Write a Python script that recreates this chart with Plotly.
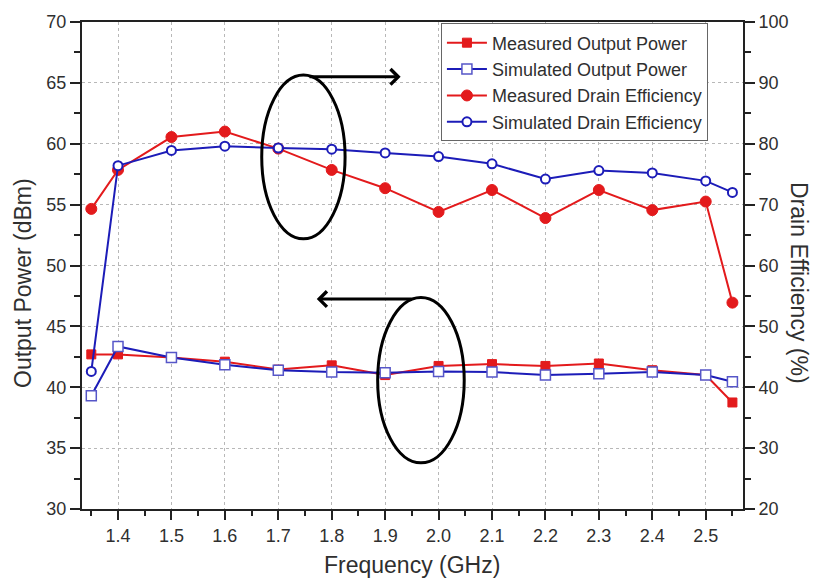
import plotly.graph_objects as go

# Frequency points (GHz)
freq = [1.35, 1.4, 1.5, 1.6, 1.7, 1.8, 1.9, 2.0, 2.1, 2.2, 2.3, 2.4, 2.5, 2.55]

# Output power (dBm)
meas_pout = [42.7, 42.7, 42.45, 42.1, 41.45, 41.8, 41.0, 41.75, 41.9, 41.75, 41.95, 41.4, 41.0, 38.75]
sim_pout = [39.3, 43.35, 42.45, 41.85, 41.4, 41.25, 41.2, 41.3, 41.25, 41.0, 41.1, 41.25, 41.0, 40.45]

# Drain efficiency (%)
meas_de = [69.3, 75.7, 81.1, 82.0, 79.2, 75.7, 72.7, 68.8, 72.4, 67.8, 72.4, 69.1, 70.5, 53.9]
sim_de = [42.6, 76.4, 78.9, 79.6, 79.3, 79.1, 78.5, 77.9, 76.7, 74.2, 75.6, 75.2, 73.9, 72.0]

RED = "#E31A1C"
BLUE = "#1C1CB8"
FONT = "Liberation Sans, Arial, sans-serif"
TXT = "#2f2f2f"

fig = go.Figure()

fig.add_trace(go.Scatter(
    x=freq, y=meas_pout, name="Measured Output Power", mode="lines+markers",
    line=dict(color=RED, width=2),
    marker=dict(symbol="square", size=9, color=RED, line=dict(color=RED, width=1)),
    legendrank=1,
))
fig.add_trace(go.Scatter(
    x=freq, y=sim_pout, name="Simulated Output Power", mode="lines+markers",
    line=dict(color=BLUE, width=2),
    marker=dict(symbol="square", size=10, color="white", line=dict(color="#5656C8", width=1.5)),
    legendrank=2,
))
fig.add_trace(go.Scatter(
    x=freq, y=meas_de, name="Measured Drain Efficiency", mode="lines+markers", yaxis="y2",
    line=dict(color=RED, width=2),
    marker=dict(symbol="circle", size=11, color=RED, line=dict(color=RED, width=1)),
    legendrank=3,
))
fig.add_trace(go.Scatter(
    x=freq, y=sim_de, name="Simulated Drain Efficiency", mode="lines+markers", yaxis="y2",
    line=dict(color=BLUE, width=2),
    marker=dict(symbol="circle", size=9, color="white", line=dict(color=BLUE, width=2)),
    legendrank=4,
))

grid = dict(showgrid=True, gridcolor="#b8b8b8", gridwidth=1, griddash="3px,3px")
axis_line = dict(showline=True, linecolor="#222", linewidth=2, zeroline=False)
tick_font = dict(family=FONT, size=18, color=TXT)

fig.update_layout(
    width=816, height=585,
    margin=dict(l=82, r=73, t=20, b=76),
    paper_bgcolor="white", plot_bgcolor="white",
    showlegend=True,
    legend=dict(
        x=0.543, y=0.997, xanchor="left", yanchor="top",
        bgcolor="white", bordercolor="#666", borderwidth=1,
        font=dict(family=FONT, size=18, color=TXT),
        tracegroupgap=0, itemwidth=40,
    ),
    xaxis=dict(
        range=[1.3326, 2.5698], tick0=1.4, dtick=0.1, tickformat=".1f",
        ticks="outside", ticklen=9, tickwidth=2, tickcolor="#222",
        minor=dict(ticks="outside", ticklen=5, tickwidth=2, tickcolor="#222", tick0=1.35, dtick=0.05),
        mirror=True, tickfont=tick_font, **grid, **axis_line,
    ),
    yaxis=dict(
        range=[30, 70], tick0=30, dtick=5,
        ticks="outside", ticklen=10, tickwidth=2, tickcolor="#222",
        minor=dict(ticks="outside", ticklen=6, tickwidth=2, tickcolor="#222", dtick=2.5),
        mirror=True, tickfont=tick_font, **grid, **axis_line,
    ),
    yaxis2=dict(
        range=[20, 100], tick0=20, dtick=10, overlaying="y", side="right",
        ticks="outside", ticklen=10, tickwidth=2, tickcolor="#222",
        minor=dict(ticks="outside", ticklen=6, tickwidth=2, tickcolor="#222", dtick=5),
        showgrid=False, tickfont=tick_font, **axis_line,
    ),
)

# Axis titles
title_font = dict(family=FONT, size=23, color=TXT)
fig.add_annotation(text="Frequency (GHz)", xref="paper", yref="paper", x=0.4985, y=-0.1145,
                   xanchor="center", yanchor="middle", showarrow=False, font=title_font)
fig.add_annotation(text="Output Power (dBm)", xref="paper", yref="paper", x=-0.0893, y=0.464,
                   xanchor="center", yanchor="middle", textangle=-90, showarrow=False, font=title_font)
fig.add_annotation(text="Drain Efficiency (%)", xref="paper", yref="paper", x=1.0847, y=0.464,
                   xanchor="center", yanchor="middle", textangle=90, showarrow=False, font=title_font)

# Ellipses grouping the curves, with arrows pointing to their axes
fig.add_shape(type="circle", xref="x", yref="y", x0=1.669, x1=1.825, y0=52.19, y1=65.64,
              line=dict(color="black", width=3))
fig.add_shape(type="circle", xref="x", yref="y", x0=1.886, x1=2.048, y0=33.79, y1=47.37,
              line=dict(color="black", width=3))
fig.add_annotation(x=1.929, y=65.5, ax=1.7556, ay=65.5, xref="x", yref="y", axref="x", ayref="y",
                   text="", showarrow=True, arrowhead=4, arrowsize=1, arrowwidth=3,
                   arrowcolor="black", standoff=0)
fig.add_annotation(x=1.772, y=47.24, ax=1.952, ay=47.24, xref="x", yref="y", axref="x", ayref="y",
                   text="", showarrow=True, arrowhead=4, arrowsize=1, arrowwidth=3,
                   arrowcolor="black", standoff=0)

fig.write_html("out.html")
